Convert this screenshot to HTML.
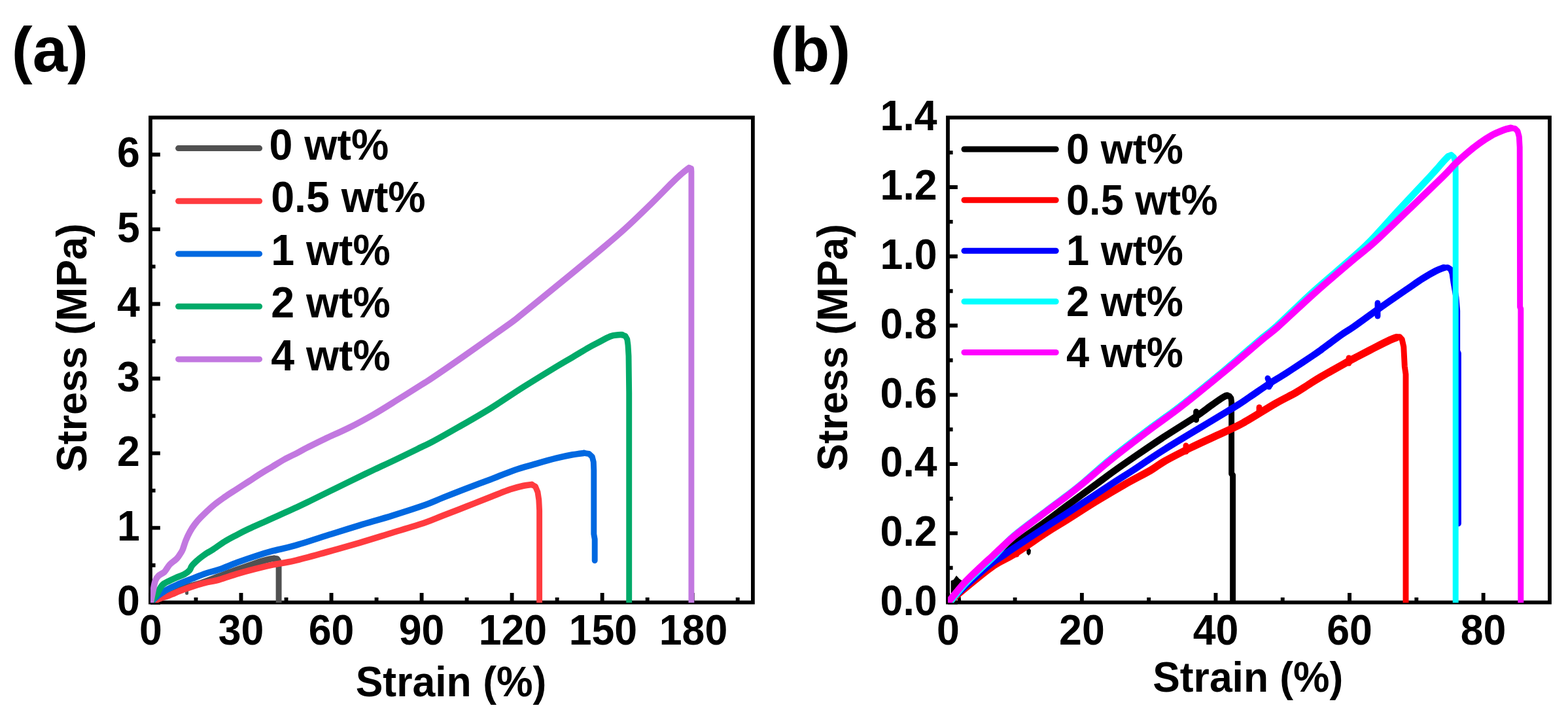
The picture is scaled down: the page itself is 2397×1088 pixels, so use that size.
<!DOCTYPE html>
<html lang="en"><head><meta charset="utf-8"><title>Stress-strain curves</title>
<style>
html,body{margin:0;padding:0;background:#fff;}
body{width:2397px;height:1088px;overflow:hidden;}
svg{display:block;}
text{font-family:"Liberation Sans", Arial, Helvetica, sans-serif;font-weight:bold;fill:#000;}
.ax{stroke:#000;stroke-width:5.9;fill:none;stroke-linecap:butt;}
.cv{fill:none;stroke-linejoin:round;stroke-linecap:round;}
</style></head><body>
<svg width="2397" height="1088" viewBox="0 0 2397 1088">
<rect width="2397" height="1088" fill="#fff"/>
<g>
<path class="ax" d="M230.50 920.55V906.05M368.53 920.55V906.05M506.56 920.55V906.05M644.59 920.55V906.05M782.62 920.55V906.05M920.65 920.55V906.05M1058.68 920.55V906.05M299.51 920.55V912.95M437.54 920.55V912.95M575.58 920.55V912.95M713.61 920.55V912.95M851.63 920.55V912.95M989.66 920.55V912.95M1127.70 920.55V912.95M230.00 920.75H244.90M230.00 806.67H244.90M230.00 692.59H244.90M230.00 578.51H244.90M230.00 464.43H244.90M230.00 350.35H244.90M230.00 236.27H244.90M230.00 863.71H237.60M230.00 749.63H237.60M230.00 635.55H237.60M230.00 521.47H237.60M230.00 407.39H237.60M230.00 293.31H237.60"/>
<rect x="230.00" y="179.60" width="920.90" height="740.95" fill="none" stroke="#000" stroke-width="5.8"/>
<clipPath id="ca"><rect x="230.10" y="179.60" width="920.80" height="741.30"/></clipPath>
<g clip-path="url(#ca)">
<path class="cv" stroke="#515151" stroke-width="5" d="M285.6 902.0 L285.6 906.6"/>
<path class="cv" stroke="#515151" stroke-width="8.9" d="M419.0 853.2 L423.5 853.6 L425.6 856.5 L426.1 861.0 L426.1 921.0"/>
<path class="cv" stroke="#515151" stroke-width="9.6" d="M230.5 920.6 C235.4 918.2 250.9 909.9 260.0 906.0 C269.1 902.1 277.1 899.5 285.0 897.0 C292.9 894.5 299.4 893.4 307.7 890.7 C316.0 888.0 325.9 884.0 335.0 880.6 C344.1 877.2 353.4 873.6 362.6 870.3 C371.8 867.0 383.2 863.0 390.1 860.7 C397.0 858.4 399.9 857.6 403.9 856.5 C407.9 855.4 411.5 854.5 414.0 854.0 C416.5 853.5 418.2 853.3 419.0 853.2"/>
<path class="cv" stroke="#FF3B3F" stroke-width="8.9" d="M812.8 740.4 L818.5 743.5 L822.0 752.0 L823.8 764.0 L824.6 780.0 L824.6 921.0"/>
<path class="cv" stroke="#FF3B3F" stroke-width="9.6" d="M230.5 920.6 C232.9 919.6 240.2 916.4 245.0 914.5 C249.8 912.6 253.7 911.6 259.5 909.4 C265.4 907.2 272.1 904.0 280.1 901.1 C288.1 898.2 298.6 894.5 307.7 892.0 C316.8 889.5 325.9 888.3 335.0 885.8 C344.1 883.3 353.4 879.6 362.6 876.9 C371.8 874.1 380.9 871.6 390.1 869.3 C399.3 867.0 407.7 865.0 417.7 862.9 C427.7 860.8 436.3 860.1 450.0 856.9 C463.7 853.7 483.3 848.1 500.0 843.5 C516.7 838.9 533.3 834.2 550.0 829.3 C566.7 824.4 583.3 819.1 600.0 814.0 C616.7 808.9 637.2 802.8 650.0 798.5 C662.8 794.2 666.2 792.1 676.8 788.0 C687.4 783.9 701.2 778.6 713.5 773.8 C725.8 769.0 739.2 763.5 750.3 759.2 C761.4 754.9 771.7 750.6 780.0 747.8 C788.3 745.0 794.8 743.4 800.3 742.2 C805.8 741.0 810.7 740.7 812.8 740.4"/>
<path class="cv" stroke="#0068E0" stroke-width="8.9" d="M892.9 692.3 L900.5 693.5 L905.3 698.0 L907.3 706.0 L907.8 719.2 L907.8 816.0 L909.2 824.0 L909.2 856.5"/>
<path class="cv" stroke="#0068E0" stroke-width="9.6" d="M230.5 920.6 C232.1 919.1 235.8 914.8 240.0 911.5 C244.2 908.2 250.5 903.9 256.0 900.7 C261.5 897.5 266.9 895.2 273.2 892.4 C279.5 889.6 287.0 886.8 293.9 884.1 C300.8 881.4 307.8 878.5 314.6 876.2 C321.5 873.9 327.0 873.1 335.0 870.3 C343.0 867.5 353.4 863.0 362.6 859.6 C371.8 856.2 380.9 853.0 390.1 850.0 C399.3 847.0 407.7 844.4 417.7 841.7 C427.7 839.0 435.1 838.2 450.0 833.9 C464.9 829.6 490.3 821.2 507.0 816.0 C523.7 810.8 534.5 807.3 550.0 802.6 C565.5 797.9 583.3 793.0 600.0 787.8 C616.7 782.6 637.2 776.0 650.0 771.5 C662.8 767.0 666.2 764.8 676.8 760.6 C687.4 756.4 701.2 750.9 713.5 746.2 C725.8 741.5 738.0 737.1 750.3 732.4 C762.6 727.7 776.0 722.0 787.1 718.2 C798.2 714.4 806.3 712.4 816.8 709.4 C827.3 706.4 840.5 702.6 850.3 700.2 C860.0 697.8 868.2 696.1 875.3 694.8 C882.4 693.5 890.0 692.7 892.9 692.3"/>
<path class="cv" stroke="#00AA69" stroke-width="8.9" d="M951.0 511.6 L956.0 513.5 L958.8 518.5 L960.0 527.3 L961.0 544.0 L961.7 600.0 L961.7 921.0"/>
<path class="cv" stroke="#00AA69" stroke-width="9.6" d="M230.5 920.6 C231.2 919.5 233.5 916.0 235.0 914.0 C236.5 912.0 237.3 911.9 239.5 908.6 C241.7 905.3 244.8 897.6 248.1 894.1 C251.4 890.6 255.7 889.4 259.1 887.6 C262.5 885.8 264.5 884.8 268.4 883.1 C272.2 881.4 278.6 879.2 282.2 877.2 C285.8 875.2 288.0 873.5 289.8 871.4 C291.6 869.3 291.4 867.2 293.2 864.8 C295.0 862.4 297.8 859.7 300.5 857.2 C303.2 854.7 306.7 852.0 309.4 850.0 C312.1 848.0 313.9 846.7 316.5 845.0 C319.1 843.3 320.6 842.9 325.1 840.0 C329.6 837.1 337.4 831.3 343.5 827.5 C349.6 823.7 355.8 820.6 361.9 817.4 C368.0 814.2 374.2 811.1 380.3 808.2 C386.4 805.3 392.6 802.6 398.7 799.9 C404.8 797.1 411.0 794.5 417.1 791.7 C423.2 789.0 429.3 786.2 435.4 783.4 C441.5 780.6 448.0 777.8 453.8 775.1 C459.6 772.4 464.4 770.1 470.0 767.4 C475.6 764.7 477.0 764.0 487.6 758.8 C498.2 753.6 519.7 742.9 533.5 736.2 C547.3 729.5 558.0 724.3 570.3 718.5 C582.6 712.7 594.9 707.1 607.1 701.2 C619.4 695.4 635.0 687.7 643.8 683.4 C652.6 679.1 650.6 680.6 660.0 675.6 C669.4 670.6 685.0 661.8 700.0 653.2 C715.0 644.6 733.5 634.1 750.2 623.8 C766.9 613.5 783.6 601.8 800.3 591.3 C817.0 580.8 837.8 568.1 850.3 560.5 C862.8 552.9 867.0 550.7 875.3 545.8 C883.6 540.9 893.7 534.7 900.0 531.1 C906.3 527.5 907.4 527.1 912.9 524.3 C918.4 521.4 927.6 516.1 933.0 514.0 C938.4 511.9 942.0 512.2 945.0 511.8 C948.0 511.4 950.0 511.6 951.0 511.6"/>
<path class="cv" stroke="#C278E0" stroke-width="8.9" d="M1053.4 256.4 L1056.6 257.5 L1056.9 262.0 L1056.9 921.0"/>
<path class="cv" stroke="#C278E0" stroke-width="9.6" d="M230.3 920.6 C230.7 918.8 231.8 913.5 232.5 910.0 C233.2 906.5 233.8 903.4 234.6 899.6 C235.4 895.8 236.2 890.5 237.5 887.2 C238.8 883.9 239.9 882.2 242.2 880.0 C244.5 877.8 248.9 876.1 251.2 874.1 C253.4 872.1 254.2 869.9 255.7 867.9 C257.2 865.9 257.6 864.5 260.1 862.1 C262.6 859.7 267.9 856.1 270.5 853.4 C273.1 850.7 274.4 848.2 275.8 846.0 C277.2 843.8 277.8 843.3 279.2 840.0 C280.6 836.7 282.2 830.5 284.0 826.0 C285.8 821.5 287.9 816.9 290.2 812.8 C292.4 808.7 294.7 805.2 297.5 801.5 C300.3 797.8 302.2 795.4 306.8 790.7 C311.4 786.0 319.0 778.5 325.1 773.3 C331.2 768.1 337.4 763.8 343.5 759.5 C349.6 755.2 355.8 751.5 361.9 747.5 C368.0 743.5 374.2 739.6 380.3 735.6 C386.4 731.6 392.6 727.4 398.7 723.6 C404.8 719.8 411.0 716.3 417.1 712.6 C423.2 708.9 429.3 705.0 435.4 701.6 C441.5 698.2 448.0 695.4 453.8 692.4 C459.6 689.4 462.8 687.4 470.0 683.8 C477.2 680.2 486.2 675.6 496.8 670.6 C507.4 665.6 521.2 659.7 533.5 653.6 C545.8 647.5 558.0 640.8 570.3 633.8 C582.6 626.8 594.9 618.9 607.1 611.3 C619.4 603.7 635.0 593.8 643.8 588.3 C652.6 582.8 649.3 585.2 660.0 578.0 C670.7 570.8 688.8 558.4 708.0 545.0 C727.2 531.6 760.3 508.2 775.2 497.5 C790.1 486.8 784.9 490.5 797.4 480.5 C809.9 470.5 836.5 448.7 850.3 437.5 C864.1 426.3 868.9 422.3 880.0 413.2 C891.1 404.1 904.5 393.1 916.8 382.8 C929.0 372.5 941.2 362.4 953.5 351.3 C965.8 340.2 978.0 328.4 990.3 316.4 C1002.6 304.4 1018.5 288.0 1027.1 279.5 C1035.7 271.0 1037.6 269.4 1042.0 265.5 C1046.4 261.6 1051.5 257.9 1053.4 256.4"/>
</g>
<path class="cv" stroke="#515151" stroke-width="9" d="M272.6 226.6H396.6"/>
<text transform="translate(411.50 243.50) scale(0.9770 1)" font-size="66">0 wt%</text>
<path class="cv" stroke="#FF3B3F" stroke-width="9" d="M272.6 307.3H396.6"/>
<text transform="translate(414.20 324.20) scale(0.9770 1)" font-size="66">0.5 wt%</text>
<path class="cv" stroke="#0068E0" stroke-width="9" d="M272.6 387.9H396.6"/>
<text transform="translate(414.20 404.80) scale(0.9770 1)" font-size="66">1 wt%</text>
<path class="cv" stroke="#00AA69" stroke-width="9" d="M272.6 468.2H396.6"/>
<text transform="translate(414.20 485.10) scale(0.9770 1)" font-size="66">2 wt%</text>
<path class="cv" stroke="#C278E0" stroke-width="9" d="M272.6 548.9H396.6"/>
<text transform="translate(414.20 565.80) scale(0.9770 1)" font-size="66">4 wt%</text>
<text transform="translate(230.50 984.60) scale(0.9750 1)" font-size="64.2" text-anchor="middle">0</text>
<text transform="translate(368.53 984.60) scale(0.9750 1)" font-size="64.2" text-anchor="middle">30</text>
<text transform="translate(506.56 984.60) scale(0.9750 1)" font-size="64.2" text-anchor="middle">60</text>
<text transform="translate(644.59 984.60) scale(0.9750 1)" font-size="64.2" text-anchor="middle">90</text>
<text transform="translate(783.92 984.60) scale(0.9750 1)" font-size="64.2" text-anchor="middle">120</text>
<text transform="translate(921.95 984.60) scale(0.9750 1)" font-size="64.2" text-anchor="middle">150</text>
<text transform="translate(1059.98 984.60) scale(0.9750 1)" font-size="64.2" text-anchor="middle">180</text>
<text transform="translate(213.80 939.95) scale(0.9750 1)" font-size="64.2" text-anchor="end">0</text>
<text transform="translate(213.80 825.87) scale(0.9750 1)" font-size="64.2" text-anchor="end">1</text>
<text transform="translate(213.80 711.79) scale(0.9750 1)" font-size="64.2" text-anchor="end">2</text>
<text transform="translate(213.80 597.71) scale(0.9750 1)" font-size="64.2" text-anchor="end">3</text>
<text transform="translate(213.80 483.63) scale(0.9750 1)" font-size="64.2" text-anchor="end">4</text>
<text transform="translate(213.80 369.55) scale(0.9750 1)" font-size="64.2" text-anchor="end">5</text>
<text transform="translate(213.80 255.47) scale(0.9750 1)" font-size="64.2" text-anchor="end">6</text>
<text transform="translate(689.50 1064.30) scale(0.9770 1)" font-size="64" text-anchor="middle">Strain (%)</text>
<text transform="translate(131.60 531.20) rotate(-90) scale(0.9800 1)" font-size="64" text-anchor="middle">Stress (MPa)</text>
<text transform="translate(17.80 108.80)" font-size="95.8">(a)</text>
</g>
<g>
<path class="ax" d="M1449.30 920.55V906.05M1653.88 920.55V906.05M1858.46 920.55V906.05M2063.04 920.55V906.05M2267.62 920.55V906.05M1551.59 920.55V912.95M1756.17 920.55V912.95M1960.75 920.55V912.95M2165.33 920.55V912.95M1449.00 920.65H1463.90M1449.00 814.88H1463.90M1449.00 709.11H1463.90M1449.00 603.34H1463.90M1449.00 497.57H1463.90M1449.00 391.80H1463.90M1449.00 286.03H1463.90M1449.00 867.76H1456.60M1449.00 762.00H1456.60M1449.00 656.22H1456.60M1449.00 550.45H1456.60M1449.00 444.68H1456.60M1449.00 338.91H1456.60M1449.00 233.14H1456.60"/>
<rect x="1449.00" y="179.60" width="920.00" height="740.95" fill="none" stroke="#000" stroke-width="5.8"/>
<clipPath id="cb"><rect x="1449.10" y="179.60" width="919.90" height="741.30"/></clipPath>
<g clip-path="url(#cb)">
<path fill="#000000" d="M1453.6 906V887.6L1457.8 885.8L1462 879.6L1466.6 884.4L1471.6 888L1476 889L1462 906Z"/>
<path fill="#000000" d="M1464 921V913.5L1468.5 911.5L1469.5 921Z"/>
<path fill="#000000" d="M1569.2 840.5L1572.6 836L1576 841L1575.4 846L1572.4 849L1569.6 846Z"/>
<path class="cv" stroke="#000000" stroke-width="8.9" d="M1828.6 629.0L1828.6 641.5"/>
<path class="cv" stroke="#000000" stroke-width="8.9" d="M1876.0 604.4 L1879.6 605.4 L1881.9 608.5 L1882.6 614.0 L1882.6 724.0 L1884.6 726.0 L1884.6 921.0"/>
<path class="cv" stroke="#000000" stroke-width="10.4" d="M1470.0 900.0 C1475.0 895.8 1486.7 885.8 1500.0 874.5 C1513.3 863.2 1533.3 845.1 1550.0 832.0 C1566.7 818.9 1586.7 805.8 1600.0 796.0 C1613.3 786.2 1617.5 782.8 1630.0 773.5 C1642.5 764.2 1663.3 749.1 1675.0 740.5 C1686.7 731.9 1689.7 729.4 1700.0 722.0 C1710.3 714.6 1723.5 705.4 1736.8 696.3 C1750.1 687.2 1764.9 677.1 1780.0 667.2 C1795.1 657.3 1815.8 644.7 1827.5 637.0 C1839.2 629.3 1843.6 625.4 1850.0 620.8 C1856.4 616.2 1862.2 612.0 1866.0 609.5 C1869.8 607.0 1870.8 606.5 1872.5 605.6 C1874.2 604.8 1875.4 604.6 1876.0 604.4"/>
<path class="cv" stroke="#FF0000" stroke-width="8.9" d="M1925.0 622.5L1925.0 632.0"/>
<path class="cv" stroke="#FF0000" stroke-width="8.9" d="M1554.0 839.0L1554.0 847.0"/>
<path class="cv" stroke="#FF0000" stroke-width="8.9" d="M1813.0 681.0L1813.0 690.0"/>
<path class="cv" stroke="#FF0000" stroke-width="8.9" d="M2062.0 547.0L2062.0 555.0"/>
<path class="cv" stroke="#FF0000" stroke-width="8.9" d="M2135.0 515.6 L2139.5 514.6 L2143.2 518.5 L2145.8 530.0 L2147.3 560.0 L2149.0 572.0 L2149.0 921.0"/>
<path class="cv" stroke="#FF0000" stroke-width="11.4" d="M1449.3 920.6 C1455.1 915.7 1472.5 900.9 1484.2 891.4 C1495.9 881.9 1508.6 871.2 1519.5 863.8 C1530.4 856.4 1536.0 855.6 1549.4 847.2 C1562.8 838.8 1586.6 822.2 1600.0 813.5 C1613.4 804.8 1617.5 802.8 1630.0 795.0 C1642.5 787.2 1660.3 775.5 1675.0 766.5 C1689.7 757.5 1704.0 749.0 1718.0 741.0 C1732.0 733.0 1749.0 724.5 1759.3 718.5 C1769.6 712.5 1770.0 710.7 1780.0 705.0 C1790.0 699.3 1806.2 691.1 1819.5 684.5 C1832.8 677.9 1846.6 671.8 1860.0 665.5 C1873.4 659.2 1885.0 654.7 1900.0 646.5 C1915.0 638.3 1936.5 624.2 1950.0 616.5 C1963.5 608.8 1972.6 604.8 1980.9 600.0 C1989.2 595.2 1993.5 592.1 2000.0 588.0 C2006.5 583.9 2010.1 581.3 2020.0 575.5 C2029.9 569.7 2050.2 558.4 2059.5 553.2 C2068.8 548.0 2069.2 548.0 2076.0 544.5 C2082.8 541.0 2091.8 536.2 2100.0 532.0 C2108.2 527.8 2119.2 522.2 2125.0 519.5 C2130.8 516.8 2133.3 516.2 2135.0 515.6"/>
<path class="cv" stroke="#0000FF" stroke-width="8.9" d="M2106.0 463.0L2106.0 483.0"/>
<path class="cv" stroke="#0000FF" stroke-width="8.9" d="M1940.0 582.0L1940.0 591.0"/>
<path class="cv" stroke="#0000FF" stroke-width="8.9" d="M1938.0 578.0L1942.0 588.0"/>
<path class="cv" stroke="#0000FF" stroke-width="8.9" d="M2207.0 409.2 L2213.0 408.6 L2217.5 411.5 L2220.0 418.0 L2222.0 432.0 L2225.9 454.0 L2227.7 475.0 L2227.7 536.0 L2229.4 540.0 L2229.4 800.0"/>
<path class="cv" stroke="#0000FF" stroke-width="10.4" d="M1449.3 920.6 C1454.5 915.7 1469.9 900.9 1480.3 891.4 C1490.7 881.9 1502.8 870.9 1511.8 863.8 C1520.8 856.6 1527.9 852.9 1534.3 848.5 C1540.7 844.1 1539.0 844.8 1550.0 837.5 C1561.0 830.2 1586.7 813.2 1600.0 804.5 C1613.3 795.8 1613.8 795.8 1630.0 785.2 C1646.2 774.6 1680.0 752.1 1697.0 741.0 C1714.0 729.9 1718.4 727.5 1732.2 718.5 C1746.0 709.5 1758.7 700.1 1780.0 686.8 C1801.3 673.4 1841.2 649.8 1860.0 638.4 C1878.8 627.0 1884.4 623.8 1892.8 618.5 C1901.2 613.2 1902.4 612.1 1910.3 606.8 C1918.2 601.5 1931.7 591.9 1940.0 586.5 C1948.3 581.1 1954.2 577.9 1960.0 574.2 C1965.8 570.5 1967.3 569.5 1975.0 564.5 C1982.7 559.5 1998.5 549.0 2006.0 544.0 C2013.5 539.0 2012.7 539.5 2020.0 534.2 C2027.3 528.9 2041.8 517.8 2050.0 512.0 C2058.2 506.2 2059.8 506.0 2069.1 499.5 C2078.4 493.0 2092.5 482.5 2106.0 473.0 C2119.5 463.5 2138.5 450.4 2150.0 442.5 C2161.5 434.6 2167.5 430.2 2175.0 425.5 C2182.5 420.8 2189.7 416.7 2195.0 414.0 C2200.3 411.3 2205.0 410.0 2207.0 409.2"/>
<path class="cv" stroke="#00FFFF" stroke-width="8.9" d="M2214.0 239.0 L2218.5 236.5 L2222.5 240.0 L2224.8 248.0 L2225.2 260.0 L2225.2 921.0"/>
<path class="cv" stroke="#00FFFF" stroke-width="10.4" d="M1450.5 922.2 C1454.5 917.3 1465.9 902.5 1474.6 893.0 C1483.3 883.5 1495.7 872.3 1502.9 865.4 C1510.1 858.5 1510.2 859.3 1518.0 851.6 C1525.8 843.9 1535.9 831.0 1549.5 819.2 C1563.1 807.4 1586.2 791.0 1599.5 780.9 C1612.8 770.8 1620.5 765.4 1629.5 758.5 C1638.5 751.6 1641.8 749.4 1653.4 739.7 C1665.0 730.0 1682.2 713.9 1699.0 700.2 C1715.8 686.5 1736.4 671.0 1754.1 657.6 C1771.8 644.2 1785.5 635.4 1805.2 620.0 C1824.9 604.6 1852.3 582.3 1872.5 565.5 C1892.7 548.7 1913.0 530.3 1926.2 519.1 C1939.4 507.9 1938.9 509.8 1951.9 498.1 C1964.9 486.4 1986.0 465.2 2004.0 448.8 C2022.0 432.4 2045.3 413.1 2060.2 400.0 C2075.0 386.9 2080.0 383.3 2093.1 370.0 C2106.2 356.7 2123.5 336.7 2139.0 320.0 C2154.5 303.3 2174.9 281.9 2185.9 270.0 C2196.9 258.1 2200.3 253.7 2205.0 248.5 C2209.7 243.3 2212.5 240.6 2214.0 239.0"/>
<path class="cv" stroke="#FF00FF" stroke-width="8.9" d="M2309.7 195.6 L2316.0 196.5 L2320.0 200.5 L2322.3 209.0 L2323.2 225.0 L2323.6 469.0 L2324.8 472.0 L2324.8 921.0"/>
<path class="cv" stroke="#FF00FF" stroke-width="10.4" d="M1449.3 920.6 C1453.3 915.7 1464.7 900.9 1473.4 891.4 C1482.1 881.9 1494.5 870.7 1501.7 863.8 C1508.9 856.9 1508.8 857.4 1516.8 850.0 C1524.8 842.6 1536.1 831.0 1550.0 819.5 C1563.9 808.0 1586.7 791.3 1600.0 781.2 C1613.3 771.1 1621.0 765.7 1630.0 758.8 C1639.0 751.9 1642.2 749.6 1653.9 740.0 C1665.6 730.4 1683.1 714.8 1700.0 701.2 C1716.9 687.6 1737.4 672.0 1755.1 658.6 C1772.8 645.2 1786.5 636.4 1806.2 621.0 C1825.9 605.6 1853.2 583.2 1873.5 566.5 C1893.8 549.8 1914.5 531.7 1927.8 520.5 C1941.1 509.3 1940.2 511.2 1953.5 499.5 C1966.8 487.8 1988.7 466.6 2007.3 450.0 C2025.9 433.4 2049.5 413.3 2065.2 400.0 C2080.9 386.7 2086.6 383.3 2101.4 370.0 C2116.2 356.7 2136.4 336.7 2153.8 320.0 C2171.2 303.3 2193.8 281.7 2205.7 270.0 C2217.6 258.3 2218.8 255.8 2225.1 249.7 C2231.4 243.6 2237.4 238.3 2243.5 233.2 C2249.6 228.0 2255.8 223.2 2261.9 218.8 C2268.0 214.4 2274.2 210.3 2280.3 206.9 C2286.4 203.5 2293.8 200.5 2298.7 198.6 C2303.6 196.7 2307.9 196.1 2309.7 195.6"/>
</g>
<path class="cv" stroke="#000000" stroke-width="9" d="M1474.0 228.0H1614.2"/>
<text transform="translate(1630.00 250.00) scale(0.9770 1)" font-size="64.6">0 wt%</text>
<path class="cv" stroke="#FF0000" stroke-width="9" d="M1474.0 305.8H1614.2"/>
<text transform="translate(1630.00 327.75) scale(0.9770 1)" font-size="64.6">0.5 wt%</text>
<path class="cv" stroke="#0000FF" stroke-width="9" d="M1474.0 383.2H1614.2"/>
<text transform="translate(1630.00 405.25) scale(0.9770 1)" font-size="64.6">1 wt%</text>
<path class="cv" stroke="#00FFFF" stroke-width="9" d="M1474.0 460.8H1614.2"/>
<text transform="translate(1630.00 482.75) scale(0.9770 1)" font-size="64.6">2 wt%</text>
<path class="cv" stroke="#FF00FF" stroke-width="9" d="M1474.0 538.5H1614.2"/>
<text transform="translate(1630.00 560.50) scale(0.9770 1)" font-size="64.6">4 wt%</text>
<text transform="translate(1449.30 984.60) scale(0.9750 1)" font-size="64.2" text-anchor="middle">0</text>
<text transform="translate(1653.88 984.60) scale(0.9750 1)" font-size="64.2" text-anchor="middle">20</text>
<text transform="translate(1858.46 984.60) scale(0.9750 1)" font-size="64.2" text-anchor="middle">40</text>
<text transform="translate(2063.04 984.60) scale(0.9750 1)" font-size="64.2" text-anchor="middle">60</text>
<text transform="translate(2267.62 984.60) scale(0.9750 1)" font-size="64.2" text-anchor="middle">80</text>
<text transform="translate(1432.60 939.85) scale(0.9750 1)" font-size="64.2" text-anchor="end">0.0</text>
<text transform="translate(1432.60 834.08) scale(0.9750 1)" font-size="64.2" text-anchor="end">0.2</text>
<text transform="translate(1432.60 728.31) scale(0.9750 1)" font-size="64.2" text-anchor="end">0.4</text>
<text transform="translate(1432.60 622.54) scale(0.9750 1)" font-size="64.2" text-anchor="end">0.6</text>
<text transform="translate(1432.60 516.77) scale(0.9750 1)" font-size="64.2" text-anchor="end">0.8</text>
<text transform="translate(1432.60 411.00) scale(0.9750 1)" font-size="64.2" text-anchor="end">1.0</text>
<text transform="translate(1432.60 305.23) scale(0.9750 1)" font-size="64.2" text-anchor="end">1.2</text>
<text transform="translate(1432.60 199.46) scale(0.9750 1)" font-size="64.2" text-anchor="end">1.4</text>
<text transform="translate(1907.80 1057.00) scale(0.9750 1)" font-size="64" text-anchor="middle">Strain (%)</text>
<text transform="translate(1295.40 530.90) rotate(-90) scale(0.9740 1)" font-size="64" text-anchor="middle">Stress (MPa)</text>
<text transform="translate(1177.80 108.80)" font-size="95.8">(b)</text>
</g>
</svg>
</body></html>
